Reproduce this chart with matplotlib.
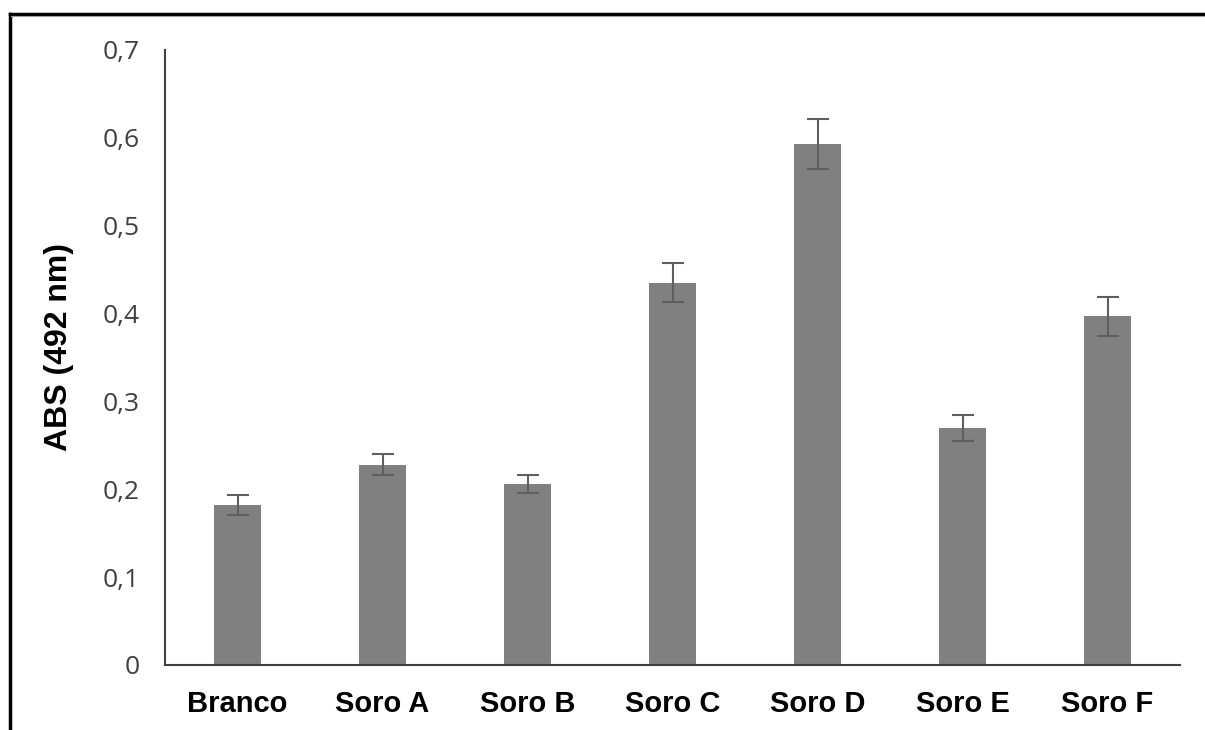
import matplotlib
matplotlib.use("Agg")
import matplotlib.pyplot as plt
from matplotlib.lines import Line2D
from matplotlib.ticker import FuncFormatter

categories = ["Branco", "Soro A", "Soro B", "Soro C", "Soro D", "Soro E", "Soro F"]
absorbance = [0.182, 0.228, 0.206, 0.435, 0.593, 0.270, 0.397]
errors = [0.011, 0.012, 0.010, 0.022, 0.029, 0.015, 0.022]
yticks = [0, 0.1, 0.2, 0.3, 0.4, 0.5, 0.6, 0.7]

W, H = 1205, 730
fig = plt.figure(figsize=(W / 100, H / 100), dpi=100)
fig.patch.set_facecolor("white")

ax = fig.add_axes([165 / W, 1 - 665 / H, (1180 - 165) / W, (665 - 50) / H])

x = list(range(len(categories)))
ax.bar(x, absorbance, width=0.325, color="#808080", zorder=2)
ax.errorbar(x, absorbance, yerr=errors, fmt="none", ecolor="#5f5f5f",
            elinewidth=1.5, capsize=8, capthick=1.5, zorder=3)

ax.set_xlim(-0.5, len(categories) - 0.5)
ax.set_ylim(0, 0.7)
ax.set_yticks(yticks)
ax.yaxis.set_major_formatter(FuncFormatter(lambda v, p: "0" if v == 0 else f"{v:.1f}".replace(".", ",")))
ax.set_xticks(x)
ax.set_xticklabels(categories, fontsize=21, fontweight="bold",
                   family="Liberation Sans", color="black")
for lab in ax.get_yticklabels():
    lab.set_fontsize(19)
    lab.set_family("Open Sans")
    lab.set_color("#404040")

ax.tick_params(axis="both", length=0)
ax.tick_params(axis="y", pad=18)
ax.tick_params(axis="x", pad=18)

for side in ["top", "right"]:
    ax.spines[side].set_visible(False)
for side in ["left", "bottom"]:
    ax.spines[side].set_color("#404040")
    ax.spines[side].set_linewidth(1.5)

ax.set_ylabel("ABS (492 nm)", fontsize=23, fontweight="bold",
              family="Liberation Sans")
ax.yaxis.set_label_coords(-(165 - 74) / (1180 - 165), (665 - 347) / (665 - 50))

# frame around the figure
fig.add_artist(Line2D([9.5 / W, 9.5 / W], [0, 1 - 13.5 / H], transform=fig.transFigure,
                      color="black", linewidth=2.5))
fig.add_artist(Line2D([9.5 / W, 1.0], [1 - 13.5 / H, 1 - 13.5 / H], transform=fig.transFigure,
                      color="black", linewidth=2.5))
fig.add_artist(Line2D([11 / W, 1.0], [1 - 15.5 / H, 1 - 15.5 / H], transform=fig.transFigure,
                      color="#a0a0a0", linewidth=0.8))

fig.savefig("out.png", dpi=100, facecolor="white")
